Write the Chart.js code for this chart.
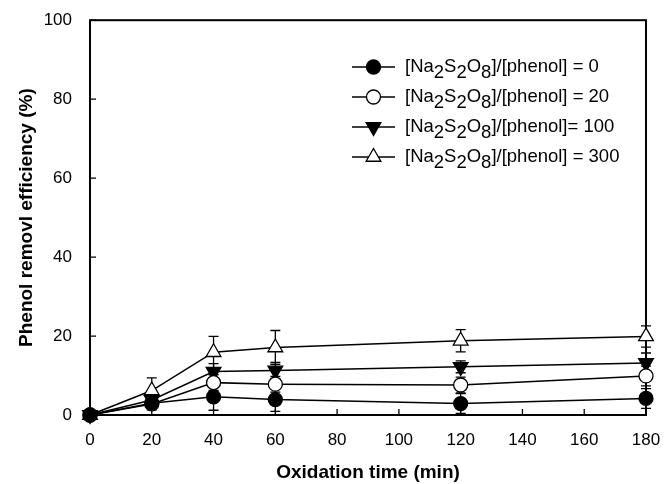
<!DOCTYPE html>
<html>
<head>
<meta charset="utf-8">
<script src="https://cdn.jsdelivr.net/npm/chart.js@4.4.1/dist/chart.umd.min.js"></script>
<style>
  html, body { margin: 0; padding: 0; background: #fff; }
  #wrap { width: 672px; height: 484px; }
</style>
</head>
<body>
<div id="wrap"><canvas id="myChart"></canvas></div>
<script>
// oxidation times (min)
const times = [0, 20, 40, 60, 120, 180];
const xTicks = [0, 20, 40, 60, 80, 100, 120, 140, 160, 180];
const yTicks = [0, 20, 40, 60, 80, 100];

// removal efficiency (%)
const ratio0 = [0, 3.0, 4.6, 3.9, 2.9, 4.2];
const ratio20 = [0, 2.8, 8.2, 7.8, 7.6, 9.9];
const ratio100 = [0, 3.8, 11.0, 11.3, 12.2, 13.2];
const ratio300 = [0, 6.2, 15.9, 17.1, 18.8, 19.9];

// error bar half-heights
const err0 = [0, 1.0, 3.4, 3.0, 2.5, 2.5];
const err20 = [0, 1.5, 2.0, 2.0, 2.0, 2.5];
const err100 = [0, 1.5, 2.0, 2.0, 1.5, 2.5];
const err300 = [0, 3.2, 4.0, 4.3, 2.8, 2.7];

// "_x" marks a subscript character
const seriesLabels = [
  "[Na_2S_2O_8]/[phenol] = 0",
  "[Na_2S_2O_8]/[phenol] = 20",
  "[Na_2S_2O_8]/[phenol]= 100",
  "[Na_2S_2O_8]/[phenol] = 300"
];

function mk(label, vals, errs, style, fill, radius, rot) {
  return {
    label: label,
    data: times.map((t, i) => ({ x: t, y: vals[i] })),
    errs: errs,
    borderColor: "#000",
    borderWidth: 1.5,
    pointStyle: style,
    pointRadius: radius,
    pointHoverRadius: radius,
    pointRotation: rot,
    pointBackgroundColor: fill,
    pointBorderColor: "#000",
    pointBorderWidth: 1.3,
    fill: false,
    tension: 0,
    clip: false
  };
}

const datasets = [
  mk(seriesLabels[0], ratio0, err0, "circle", "#000", 7, 0),
  mk(seriesLabels[1], ratio20, err20, "circle", "#fff", 7, 0),
  mk(seriesLabels[2], ratio100, err100, "triangle", "#000", 8.5, 180),
  mk(seriesLabels[3], ratio300, err300, "triangle", "#fff", 8.5, 0)
];

// error bars, drawn under the markers
const errorBars = {
  id: "errorBars",
  beforeDatasetsDraw(chart) {
    const ctx = chart.ctx, xs = chart.scales.x, ys = chart.scales.y;
    ctx.save();
    ctx.strokeStyle = "#000";
    ctx.lineWidth = 1.3;
    chart.data.datasets.forEach(ds => {
      ds.data.forEach((p, i) => {
        const e = ds.errs[i];
        if (!e) return;
        const x = xs.getPixelForValue(p.x);
        const y1 = ys.getPixelForValue(p.y + e);
        const y2 = ys.getPixelForValue(p.y - e);
        ctx.beginPath();
        ctx.moveTo(x, y1); ctx.lineTo(x, y2);
        ctx.moveTo(x - 5, y1); ctx.lineTo(x + 5, y1);
        ctx.moveTo(x - 5, y2); ctx.lineTo(x + 5, y2);
        ctx.stroke();
      });
    });
    ctx.restore();
  }
};

// box frame and inward tick marks
const frame = {
  id: "frame",
  beforeDatasetsDraw(chart) {
    const ctx = chart.ctx, a = chart.chartArea;
    const xs = chart.scales.x, ys = chart.scales.y;
    ctx.save();
    ctx.strokeStyle = "#000";
    ctx.lineWidth = 2;
    ctx.strokeRect(a.left, a.top, a.right - a.left, a.bottom - a.top);
    ctx.lineWidth = 1.3;
    ctx.beginPath();
    xTicks.forEach(v => {
      const x = xs.getPixelForValue(v);
      ctx.moveTo(x, a.bottom); ctx.lineTo(x, a.bottom - 6);
    });
    yTicks.forEach(v => {
      const y = ys.getPixelForValue(v);
      ctx.moveTo(a.left, y); ctx.lineTo(a.left + 6, y);
    });
    ctx.stroke();
    ctx.restore();
  }
};

function drawMarker(ctx, ds, x, y) {
  const r = ds.pointRadius;
  ctx.beginPath();
  if (ds.pointStyle === "circle") {
    ctx.arc(x, y, r, 0, Math.PI * 2);
  } else {
    const rad = ds.pointRotation * Math.PI / 180;
    for (let k = 0; k < 3; k++) {
      const ang = rad + k * 2 * Math.PI / 3;
      const px = x + Math.sin(ang) * r, py = y - Math.cos(ang) * r;
      if (k === 0) ctx.moveTo(px, py); else ctx.lineTo(px, py);
    }
    ctx.closePath();
  }
  ctx.fillStyle = ds.pointBackgroundColor;
  ctx.fill();
  ctx.lineWidth = ds.pointBorderWidth;
  ctx.stroke();
}

// legend with subscripts
const subLegend = {
  id: "subLegend",
  afterDraw(chart) {
    const ctx = chart.ctx;
    const x0 = 352, x1 = 395, tx = 405;
    ctx.save();
    ctx.strokeStyle = "#000";
    ctx.fillStyle = "#000";
    ctx.font = "18.5px 'Liberation Sans', Arial, sans-serif";
    ctx.textBaseline = "middle";
    chart.data.datasets.forEach((ds, i) => {
      const y = 67 + i * 30;
      ctx.lineWidth = 1.5;
      ctx.beginPath();
      ctx.moveTo(x0, y); ctx.lineTo(x1, y);
      ctx.stroke();
      drawMarker(ctx, ds, (x0 + x1) / 2, y);
      ctx.fillStyle = "#000";
      const parts = ds.label.split("_");
      let x = tx;
      parts.forEach((part, j) => {
        if (j > 0) {
          const s = part.charAt(0);
          ctx.fillText(s, x, y + 6);
          x += ctx.measureText(s).width;
          part = part.slice(1);
        }
        ctx.fillText(part, x, y);
        x += ctx.measureText(part).width;
      });
    });
    ctx.restore();
  }
};

const tickFont = { family: "'Liberation Sans', Arial, sans-serif", size: 17 };
const titleFont = { family: "'Liberation Sans', Arial, sans-serif", size: 19, weight: "bold" };

new Chart(document.getElementById("myChart"), {
  type: "line",
  data: { datasets: datasets },
  options: {
    responsive: true,
    maintainAspectRatio: false,
    animation: false,
    layout: { padding: { top: 15, right: 26, left: 0, bottom: 0 } },
    plugins: { legend: { display: false }, tooltip: { enabled: false } },
    scales: {
      x: {
        type: "linear",
        min: 0, max: 180,
        afterBuildTicks: s => { s.ticks = xTicks.map(v => ({ value: v })); },
        afterFit: s => { s.height = 69; },
        grid: { display: false },
        border: { display: false },
        ticks: { color: "#000", font: tickFont, padding: 7, maxRotation: 0 },
        title: { display: true, text: "Oxidation time (min)", color: "#000", font: titleFont, padding: { top: 0, bottom: 0 } }
      },
      y: {
        type: "linear",
        min: 0, max: 100,
        afterBuildTicks: s => { s.ticks = yTicks.map(v => ({ value: v })); },
        afterFit: s => { s.width = 90; },
        grid: { display: false },
        border: { display: false },
        ticks: { color: "#000", font: tickFont, padding: 10 },
        title: { display: true, text: "Phenol removl efficiency (%)", color: "#000", font: titleFont, padding: { top: 15, bottom: 0 } }
      }
    }
  },
  plugins: [frame, errorBars, subLegend]
});
</script>
</body>
</html>
